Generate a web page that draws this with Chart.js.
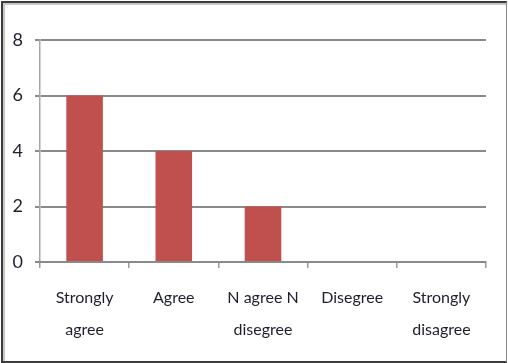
<!DOCTYPE html>
<html>
<head>
<meta charset="utf-8">
<script src="https://cdn.jsdelivr.net/npm/chart.js@4/dist/chart.umd.min.js"></script>
<style>
  html, body { margin: 0; padding: 0; background: #ffffff; }
  #frame {
    position: absolute; left: 1px; top: 1px; width: 503px; height: 358px;
    border-top: 2px solid #3c3c3c; border-left: 2px solid #3c3c3c;
    border-right: 1px solid #8a8a8a; border-bottom: 2px solid #3c3c3c;
    box-shadow: inset 2px 2px 0 #c8c8c8;
  }
  #wrap { position: absolute; left: 0; top: 0; width: 508px; height: 363px; }
</style>
</head>
<body>
<div id="frame"></div>
<div id="wrap"><canvas id="c" width="508" height="363"></canvas></div>
<script>
// Survey responses per answer option
const categories = [
  ["Strongly", "agree"],
  ["Agree"],
  ["N agree N", "disegree"],
  ["Disegree"],
  ["Strongly", "disagree"]
];
const counts = [6, 4, 2, 0, 0];
const yTicks = [0, 2, 4, 6, 8];

const FONT = 'Lato, "Open Sans", sans-serif';

new Chart(document.getElementById('c'), {
  type: 'bar',
  data: {
    labels: categories,
    datasets: [{
      data: counts,
      backgroundColor: '#c0504d',
      borderWidth: 0,
      barPercentage: 0.41,
      categoryPercentage: 1
    }]
  },
  options: {
    responsive: false,
    animation: false,
    devicePixelRatio: 1,
    layout: { padding: { left: 0, right: 22, top: 40, bottom: 0 } },
    plugins: { legend: { display: false }, tooltip: { enabled: false } },
    scales: {
      y: {
        min: 0, max: 8,
        afterBuildTicks: s => { s.ticks = yTicks.map(v => ({ value: v })); },
        afterFit: s => { s.width = 40; },
        grid: { color: '#8a8a8a', lineWidth: 2, tickLength: 5, drawTicks: true },
        border: { color: '#a6a6a6', width: 1.5 },
        ticks: { padding: 12, color: '#1e1e2e', font: { family: FONT, size: 18 } }
      },
      x: {
        afterFit: s => { s.height = 101; },
        grid: { drawOnChartArea: false, drawTicks: true, tickLength: 6, color: '#9a9a9a', lineWidth: 1.5 },
        border: { color: '#8a8a8a', width: 2 },
        ticks: { padding: 14, color: '#1e1e2e', maxRotation: 0, autoSkip: false,
                 font: { family: FONT, size: 16, lineHeight: 2.0 } }
      }
    }
  }
});
</script>
</body>
</html>
